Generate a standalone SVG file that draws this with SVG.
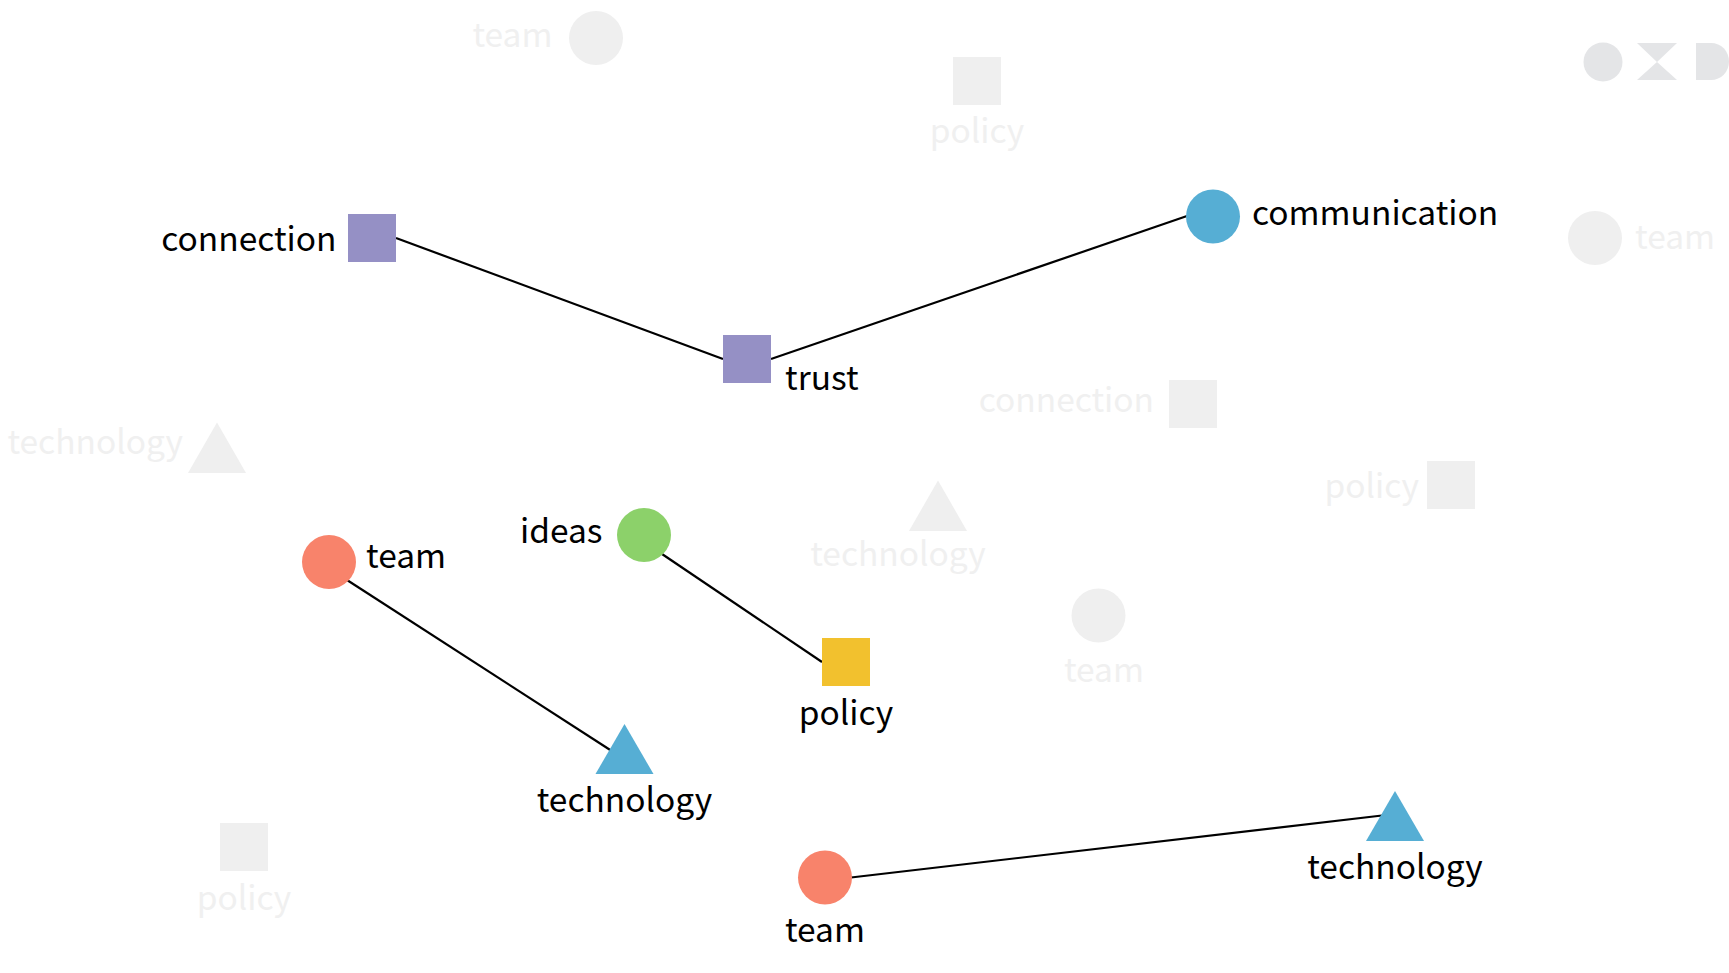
<svg xmlns="http://www.w3.org/2000/svg" width="1729" height="973" viewBox="0 0 1729 973">
<style>
text{font-family:"Noto Sans CJK SC","Noto Sans CJK JP","Noto Sans",sans-serif;font-size:33.5px}
.l{fill:#000}.g{fill:#f0f0f0}.f{fill:#e4e5e7}
.m{text-anchor:middle}.e{text-anchor:end}
.p{fill:#9590c5}.b{fill:#56aed4}.r{fill:#f8836b}.n{fill:#8cd16a}.y{fill:#f2c12e}
.gs{fill:#efefef}
line{stroke:#000;stroke-width:2.200}
</style>
<rect width="1729" height="973" fill="#fff"/>
<g id="background">
<g id="bg-team1"><circle class="gs" cx="596" cy="38" r="27"/><text class="g e" x="552.500" y="47">team</text></g>
<g id="bg-policy1"><rect class="gs" x="953" y="57" width="48" height="48"/><text class="g m" x="977" y="143">policy</text></g>
<g id="bg-team2"><circle class="gs" cx="1595" cy="238" r="27"/><text class="g" x="1635" y="249">team</text></g>
<g id="bg-connection"><rect class="gs" x="1169" y="380" width="48" height="48"/><text class="g e" x="1154" y="412">connection</text></g>
<g id="bg-policy2"><rect class="gs" x="1427" y="461" width="48" height="48"/><text class="g e" x="1419" y="498">policy</text></g>
<g id="bg-tech1"><polygon class="gs" points="217,422.500 246,473 188,473"/><text class="g e" x="183" y="454">technology</text></g>
<g id="bg-tech2"><polygon class="gs" points="938,480.500 967,531 909,531"/><text class="g m" x="898" y="566">technology</text></g>
<g id="bg-team3"><circle class="gs" cx="1098.500" cy="615.500" r="27"/><text class="g m" x="1104" y="682">team</text></g>
<g id="bg-policy3"><rect class="gs" x="220" y="823" width="48" height="48"/><text class="g m" x="244" y="910">policy</text></g>
<g id="bg-legend"><circle class="f" cx="1603" cy="62" r="19.500"/><polygon class="f" points="1637,43 1677,43 1657,62 1677,80 1637,80 1657,62"/><path class="f" d="M1696,43H1711C1721,43 1729,51 1729,61.500C1729,72 1721,80 1711,80H1696Z"/></g>
</g>
<g id="connectors">
<line x1="396" y1="238" x2="723" y2="359"/>
<line x1="771" y1="359" x2="1187" y2="216"/>
<line x1="347" y1="580" x2="611" y2="750.500"/>
<line x1="662" y1="554" x2="822" y2="662"/>
<line x1="851" y1="877.500" x2="1382" y2="815.500"/>
</g>
<g id="n-connection"><rect class="p" x="348" y="214" width="48" height="48"/><text class="l e" x="336.500" y="251">connection</text></g>
<g id="n-trust"><rect class="p" x="723" y="335" width="48" height="48"/><text class="l" x="785" y="390">trust</text></g>
<g id="n-communication"><circle class="b" cx="1213" cy="216.500" r="27"/><text class="l" x="1252" y="225">communication</text></g>
<g id="n-team1"><circle class="r" cx="329" cy="562" r="27"/><text class="l" x="366" y="568">team</text></g>
<g id="n-ideas"><circle class="n" cx="644" cy="535" r="27"/><text class="l e" x="602.500" y="543">ideas</text></g>
<g id="n-policy"><rect class="y" x="822" y="638" width="48" height="48"/><text class="l m" x="846" y="725">policy</text></g>
<g id="n-technology1"><polygon class="b" points="624.500,724 653.500,774 595.500,774"/><text class="l m" x="624.500" y="812">technology</text></g>
<g id="n-team2"><circle class="r" cx="825" cy="877.500" r="27"/><text class="l m" x="825" y="942">team</text></g>
<g id="n-technology2"><polygon class="b" points="1395,791 1424,841 1366,841"/><text class="l m" x="1395" y="879">technology</text></g>
</svg>
